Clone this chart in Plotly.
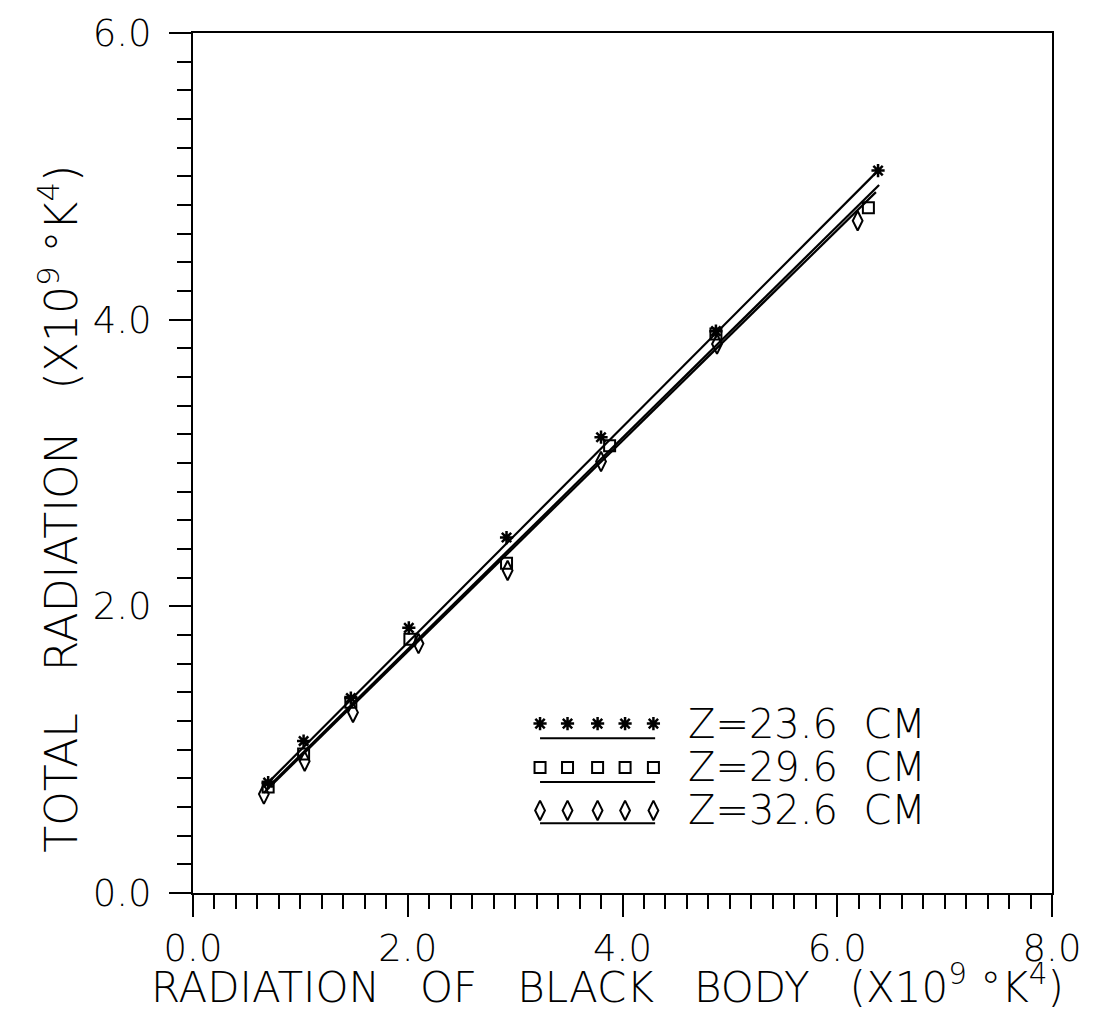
import plotly.graph_objects as go

# ---- data ----
x_star = [0.70, 1.03, 1.47, 2.01, 2.92, 3.80, 4.87, 6.38]
y_star = [0.77, 1.06, 1.36, 1.85, 2.48, 3.18, 3.92, 5.04]
x_sq = [0.70, 1.03, 1.47, 2.02, 2.92, 3.88, 4.87, 6.29]
y_sq = [0.74, 0.97, 1.33, 1.77, 2.30, 3.12, 3.90, 4.78]
x_di = [0.66, 1.04, 1.49, 2.10, 2.93, 3.80, 4.88, 6.19]
y_di = [0.69, 0.92, 1.26, 1.74, 2.25, 3.01, 3.83, 4.69]

fit_x_star = [0.70, 6.38]
fit_y_star = [0.77, 5.04]
fit_x_sq = [0.70, 6.39]
fit_y_sq = [0.74, 4.94]
fit_x_di = [0.66, 6.36]
fit_y_di = [0.70, 4.89]

series_names = ["Z=23.6  CM", "Z=29.6  CM", "Z=32.6  CM"]
x_title = "RADIATION   OF   BLACK   BODY   (X10<sup>9</sup> °K<sup>4</sup>)"
y_title = "TOTAL   RADIATION   (X10<sup>9</sup> °K<sup>4</sup>)"

FONT = "DejaVu Sans"
BLACK = "black"

fig = go.Figure()

# fitted lines
for fx, fy in [(fit_x_star, fit_y_star), (fit_x_sq, fit_y_sq), (fit_x_di, fit_y_di)]:
    fig.add_trace(go.Scatter(x=fx, y=fy, mode="lines",
                             line=dict(color=BLACK, width=2.2), showlegend=False,
                             hoverinfo="skip"))

# markers
fig.add_trace(go.Scatter(x=x_star, y=y_star, mode="markers", name=series_names[0],
                         marker=dict(symbol="asterisk-open", size=11, color=BLACK,
                                     line=dict(color=BLACK, width=2.5)), showlegend=False))
fig.add_trace(go.Scatter(x=x_sq, y=y_sq, mode="markers", name=series_names[1],
                         marker=dict(symbol="square-open", size=11, color=BLACK,
                                     line=dict(color=BLACK, width=2)), showlegend=False))
fig.add_trace(go.Scatter(x=x_di, y=y_di, mode="markers", name=series_names[2],
                         marker=dict(symbol="diamond-tall-open", size=14, color=BLACK,
                                     line=dict(color=BLACK, width=2)), showlegend=False))

# ---- custom legend on an overlay axis (0..1 in plot area) ----
leg_mx = [0.404, 0.436, 0.471, 0.503, 0.536]
leg_rows = [0.197, 0.146, 0.096]
leg_line_y = [0.180, 0.129, 0.081]
leg_line_x = [0.404, 0.538]
leg_syms = [("asterisk-open", 11, 2.5), ("square-open", 11, 2), ("diamond-tall-open", 14, 2)]
for (sym, sz, lw), ry, ly, nm in zip(leg_syms, leg_rows, leg_line_y, series_names):
    fig.add_trace(go.Scatter(x=leg_mx, y=[ry] * len(leg_mx), mode="markers",
                             xaxis="x2", yaxis="y2", showlegend=False, hoverinfo="skip",
                             marker=dict(symbol=sym, size=sz, color=BLACK,
                                         line=dict(color=BLACK, width=lw))))
    fig.add_trace(go.Scatter(x=leg_line_x, y=[ly, ly], mode="lines",
                             xaxis="x2", yaxis="y2", showlegend=False, hoverinfo="skip",
                             line=dict(color=BLACK, width=2)))
    fig.add_annotation(x=0.574, y=ry, xref="x2", yref="y2", text=nm, showarrow=False,
                       xanchor="left", yanchor="middle",
                       font=dict(family=FONT, size=40, color=BLACK, weight=300))

# axis titles as annotations
fig.add_annotation(text=y_title, xref="paper", yref="paper", x=-0.157, y=0.447,
                   textangle=-90, showarrow=False, xanchor="center", yanchor="middle",
                   font=dict(family=FONT, size=44, color=BLACK, weight=300))
fig.add_annotation(text=x_title, xref="paper", yref="paper", x=0.483, y=-0.106,
                   showarrow=False, xanchor="center", yanchor="middle",
                   font=dict(family=FONT, size=42, color=BLACK, weight=300))

axis_common = dict(
    showline=True, linecolor=BLACK, linewidth=2, mirror=True,
    showgrid=False, zeroline=False,
    ticks="outside", tickcolor=BLACK, tickwidth=2, ticklen=22,
    tick0=0, dtick=2, tickformat=".1f", ticklabeloverflow="allow",
    tickfont=dict(family=FONT, size=37, color=BLACK, weight=300),
    minor=dict(ticks="outside", dtick=0.2, ticklen=14, tickwidth=2, tickcolor=BLACK,
               showgrid=False),
)

fig.update_layout(
    width=1093, height=1011,
    margin=dict(l=193, r=29, t=30, b=118),
    paper_bgcolor="white", plot_bgcolor="white",
    showlegend=False,
    xaxis=dict(range=[0, 8], **axis_common),
    yaxis=dict(range=[0, 6], ticklabelstandoff=10, **axis_common),
    xaxis2=dict(range=[0, 1], overlaying="x", visible=False, domain=[0, 1]),
    yaxis2=dict(range=[0, 1], overlaying="y", visible=False, domain=[0, 1]),
)

fig.write_html("out.html")
